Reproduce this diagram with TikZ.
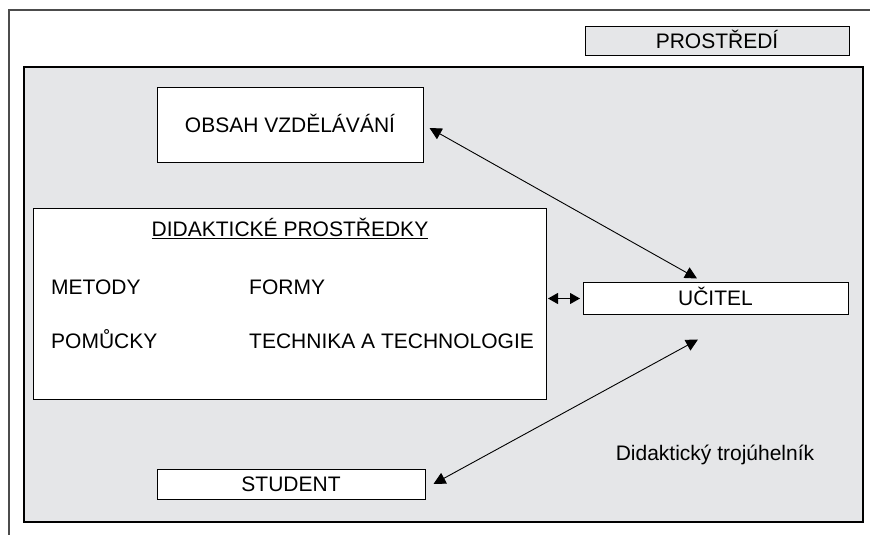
\documentclass[tikz,border=0pt]{standalone}
\usepackage{fontspec}
\setmainfont{Liberation Sans}
\usetikzlibrary{arrows.meta,calc}
\definecolor{envgray}{RGB}{229,230,232}
\begin{document}
\begin{tikzpicture}[x=1bp,y=-1bp,
  font=\fontsize{21bp}{25bp}\selectfont,
  box/.style={draw=black, line width=1bp, fill=white, inner sep=0pt, text height=15bp, text depth=0pt},
  lbl/.style={inner sep=0pt, anchor=base west},
  link/.style={line width=0.9bp, {Triangle[length=12bp,width=12bp]}-{Triangle[length=12bp,width=12bp]}},
  linkshort/.style={line width=0.9bp, {Triangle[length=10bp,width=11bp]}-{Triangle[length=10bp,width=11bp]}}]
\useasboundingbox (0,0) rectangle (870,535);
\fill[white] (0,0) rectangle (870,535);
\draw[line width=1.5bp, draw=black!70] (9,535) -- (9,10) -- (870,10);
\node[draw=black, line width=1.2bp, fill=envgray, minimum width=839bp, minimum height=455bp, inner sep=0pt] (area) at (443.5,294.5) {};
\node[box, fill=envgray, minimum width=264bp, minimum height=29bp] (env) at (717,41.5) {PROSTŘEDÍ};
\node[box, minimum width=266bp, minimum height=75bp] (obsah) at (290,125.5) {OBSAH VZDĚLÁVÁNÍ};
\node[box, minimum width=512bp, minimum height=190bp] (didak) at (290,304) {};
\node[box, minimum width=265bp, minimum height=31bp] (ucitel) at (715.5,298.5) {UČITEL};
\node[box, minimum width=268bp, minimum height=30bp] (student) at (291,484) {STUDENT};
\node[lbl, anchor=base] (dtitle) at (290,237) {\underline{DIDAKTICKÉ PROSTŘEDKY}};
\node[lbl] (metody) at (51,295) {METODY};
\node[lbl] (formy) at (249,295) {FORMY};
\node[lbl] (pomucky) at (51,348) {POMŮCKY};
\node[lbl] (technika) at (249,348) {TECHNIKA A TECHNOLOGIE};
\node[lbl, anchor=base] (troj) at (715,460) {Didaktický trojúhelník};
\draw[link] ($(obsah.east)+(6,2.5)$) -- ($(ucitel.north)+(-18.5,-4)$);
\draw[link] ($(student.east)+(8,0)$) -- ($(ucitel.south)+(-17.5,25)$);
\draw[linkshort] ($(didak.east|-ucitel.west)+(1.5,0)$) -- ($(ucitel.west)+(-2.5,0)$);
\end{tikzpicture}
\end{document}
